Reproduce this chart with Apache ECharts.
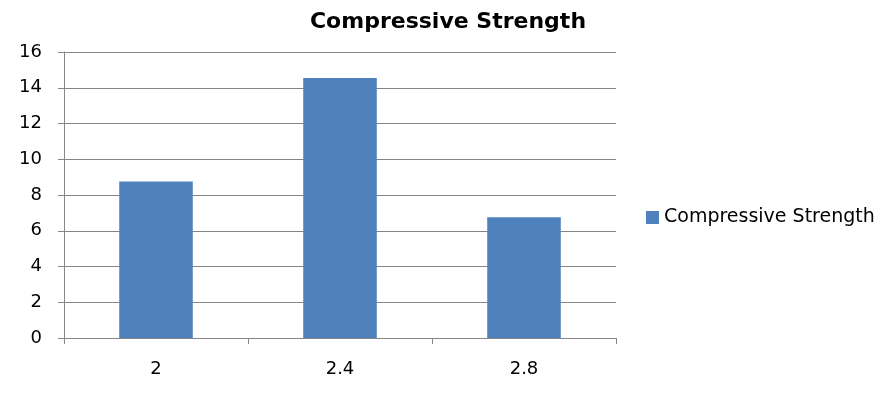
<!DOCTYPE html>
<html>
<head>
<meta charset="utf-8">
<script src="https://cdn.jsdelivr.net/npm/echarts@6/dist/echarts.min.js"></script>
<style>html,body{margin:0;padding:0;background:#fff}#c{width:896px;height:410px}</style>
</head>
<body>
<div id="c"></div>
<script>
const categories = ['2', '2.4', '2.8'];
const seriesName = 'Compressive Strength';
const values = [8.75, 14.55, 6.75];
const titleText = 'Compressive Strength';

const chart = echarts.init(document.getElementById('c'), null, {renderer: 'canvas'});
const font = '"DejaVu Sans", sans-serif';
chart.setOption({
  animation: false,
  backgroundColor: '#fff',
  title: {
    text: titleText, left: 'center', top: 6,
    textStyle: {fontFamily: font, fontWeight: 'bold', fontSize: 22, color: '#000'}
  },
  legend: {
    data: [seriesName], left: 641, top: 203, itemWidth: 13, itemHeight: 13, itemGap: 7,
    icon: 'rect',
    textStyle: {fontFamily: font, fontSize: 19, color: '#000'}
  },
  grid: {left: 64, right: 280, top: 52, bottom: 72, containLabel: false},
  xAxis: {
    type: 'category', data: categories, boundaryGap: true,
    axisLine: {lineStyle: {color: '#868686', width: 1}},
    axisTick: {show: true, alignWithLabel: false, length: 6, lineStyle: {color: '#868686'}},
    axisLabel: {fontFamily: font, fontSize: 18, color: '#000', margin: 22}
  },
  yAxis: {
    type: 'value', min: 0, max: 16, interval: 2,
    axisLine: {show: true, lineStyle: {color: '#868686', width: 1}},
    axisTick: {show: true, inside: false, length: 6, lineStyle: {color: '#868686'}},
    splitLine: {show: true, lineStyle: {color: '#868686', width: 1}},
    axisLabel: {fontFamily: font, fontSize: 18, color: '#000', margin: 22}
  },
  series: [{
    name: seriesName, type: 'bar', data: values, barWidth: '40%',
    itemStyle: {color: '#4f81bd'}
  }]
});
</script>
</body>
</html>
